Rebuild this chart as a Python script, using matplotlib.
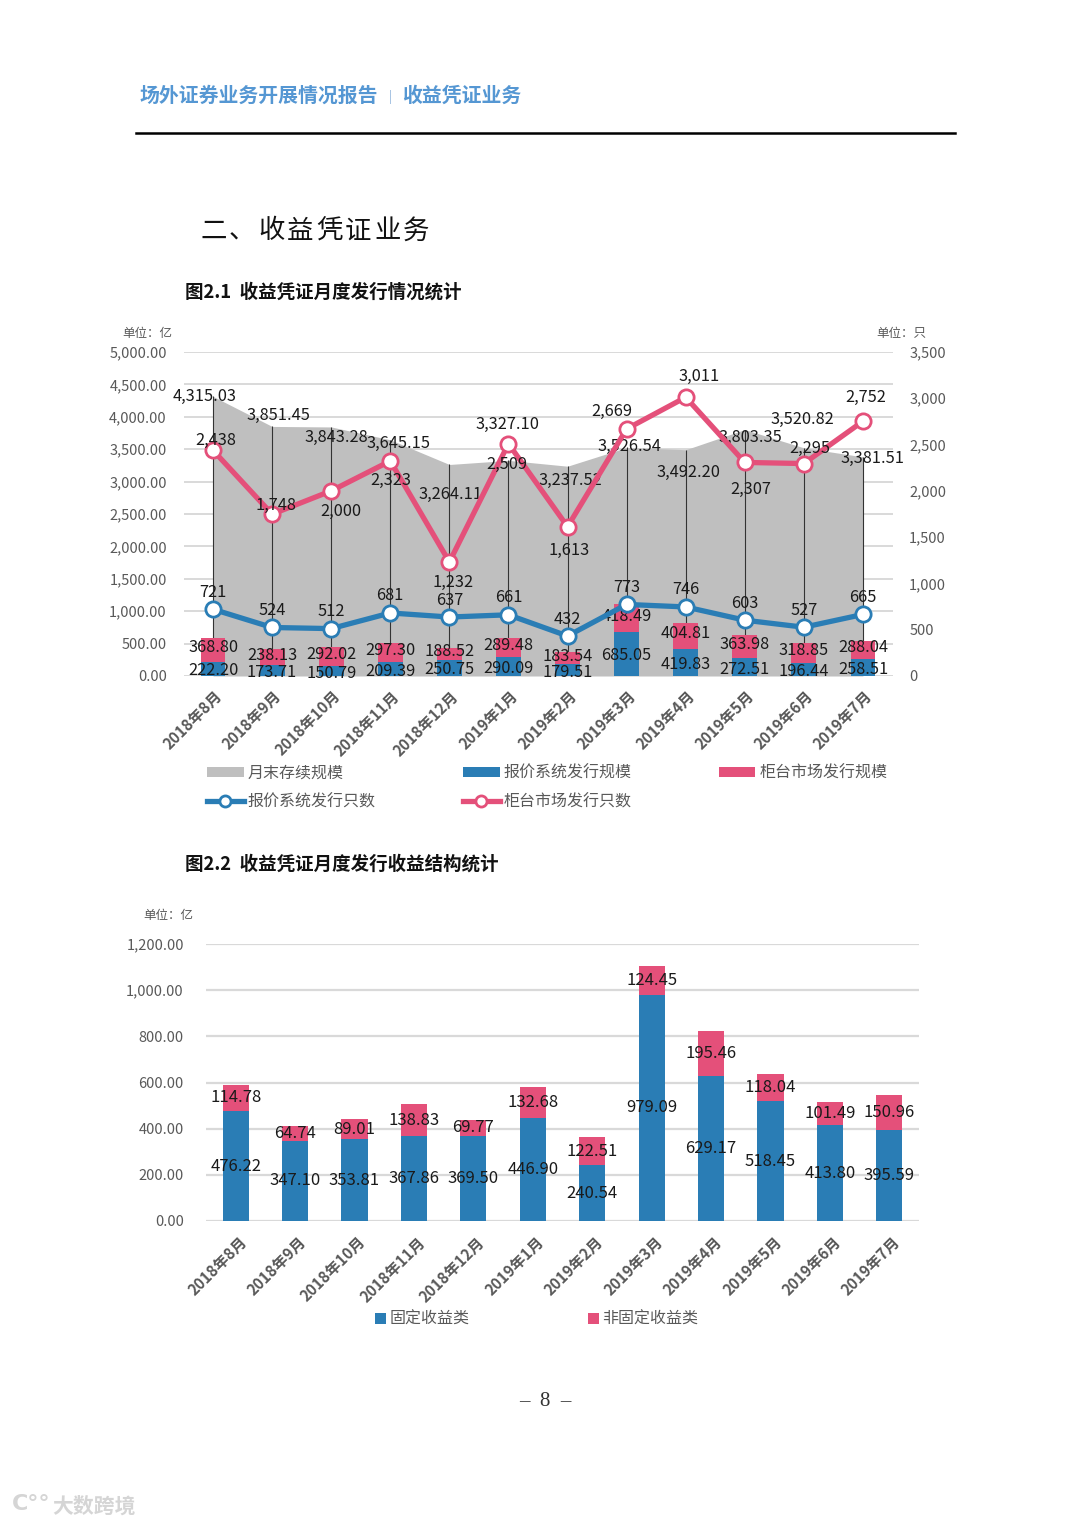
import matplotlib
matplotlib.use("Agg")
import matplotlib.pyplot as plt
from matplotlib.patches import Patch
from matplotlib.lines import Line2D
import matplotlib.transforms as mtransforms

plt.rcParams['font.family'] = ['Noto Sans CJK SC', 'DejaVu Sans']

# ---------------- data ----------------
months = ['2018年8月', '2018年9月', '2018年10月', '2018年11月', '2018年12月', '2019年1月',
          '2019年2月', '2019年3月', '2019年4月', '2019年5月', '2019年6月', '2019年7月']
stock_scale = [4315.03, 3851.45, 3843.28, 3645.15, 3264.11, 3327.10,
               3237.52, 3526.54, 3492.20, 3803.35, 3520.82, 3381.51]
quote_amount = [222.20, 173.71, 150.79, 209.39, 250.75, 290.09,
                179.51, 685.05, 419.83, 272.51, 196.44, 258.51]
otc_amount = [368.80, 238.13, 292.02, 297.30, 188.52, 289.48,
              183.54, 418.49, 404.81, 363.98, 318.85, 288.04]
quote_count = [721, 524, 512, 681, 637, 661, 432, 773, 746, 603, 527, 665]
otc_count = [2438, 1748, 2000, 2323, 1232, 2509, 1613, 2669, 3011, 2307, 2295, 2752]

fixed_income = [476.22, 347.10, 353.81, 367.86, 369.50, 446.90,
                240.54, 979.09, 629.17, 518.45, 413.80, 395.59]
non_fixed_income = [114.78, 64.74, 89.01, 138.83, 69.77, 132.68,
                    122.51, 124.45, 195.46, 118.04, 101.49, 150.96]

# ---------------- style ----------------
BLUE = '#2A7DB5'
PINK = '#E4507A'
GREY = '#BFBFBF'
TXT = '#595959'
GRID = '#D9D9D9'

# label offsets in pixels (style only)
stock_off = [(-8, 0), (6, 11), (5, -10), (8, -4), (1, -30), (-1, 36),
             (3, -14), (3, 1), (3, -23), (6, -8), (-1, 28), (10, -2)]
otc_cnt_off = [(3, 10), (4, 9), (10, -21), (1, -19), (4, -21), (-2, -21),
               (2, -24), (-15, 17), (13, 21), (6, -27), (6, 15), (3, 24)]

fig = plt.figure(figsize=(10.8, 15.27), dpi=100)
W, H = 1080, 1527


def fx(px):
    return px / W


def fy(py):
    return 1 - py / H


# ---------------- page texts ----------------
fig.text(fx(140), fy(95), '场外证券业务开展情况报告', fontsize=14.3, fontweight='bold',
         color='#5597D3', va='center', ha='left')
fig.text(fx(390), fy(97), '|', fontsize=9, color='#8DB3DA', va='center', ha='center')
fig.text(fx(402), fy(95), '收益凭证业务', fontsize=14.3, fontweight='bold',
         color='#5597D3', va='center', ha='left')
fig.add_artist(Line2D([fx(136), fx(955)], [fy(133), fy(133)], color='black', lw=1.8))

section_title = '二、收益凭证业务'
for k, ch in enumerate(section_title):
    fig.text(fx(200 + 29 * k), fy(231), ch, fontsize=19, color='#111111',
             va='center', ha='left')
fig.text(fx(185), fy(292), '图2.1  收益凭证月度发行情况统计', fontsize=13.3,
         fontweight='bold', color='#111111', va='center', ha='left')
fig.text(fx(185), fy(864), '图2.2  收益凭证月度发行收益结构统计', fontsize=13.3,
         fontweight='bold', color='#111111', va='center', ha='left')

fig.text(fx(122), fy(334), '单位：亿', fontsize=9, color=TXT, va='center', ha='left')
fig.text(fx(876), fy(334), '单位：只', fontsize=9, color=TXT, va='center', ha='left')
fig.text(fx(143), fy(916), '单位：亿', fontsize=9, color=TXT, va='center', ha='left')

fig.text(fx(545), fy(1401), '–  8  –', fontsize=15, color='#333333',
         family='Liberation Serif', va='center', ha='center')
fig.text(fx(52), fy(1506), '大数跨境', fontsize=15, fontweight='bold', color='#D5D5D5',
         va='center', ha='left')
fig.text(fx(12), fy(1504), 'C°°', fontsize=16, fontweight='bold', color='#D5D5D5',
         va='center', ha='left', family='DejaVu Sans')

x = list(range(len(months)))
tick_off = mtransforms.ScaledTranslation(1 / 100, -7 / 100, fig.dpi_scale_trans)

# ---------------- chart 1 ----------------
ax1 = fig.add_axes([fx(183.5), fy(676), fx(892.5) - fx(183.5), fy(352) - fy(676)])
ax1.set_xlim(-0.5, len(months) - 0.5)
ax1.set_ylim(0, 5000)
ax1.set_yticks(range(0, 5001, 500))
ax1.set_yticklabels([f'{v:,.2f}' for v in range(0, 5001, 500)])
ax1.yaxis.grid(True, color=GRID, lw=1.4)
ax1.set_axisbelow(True)
ax1.fill_between(x, stock_scale, 0, color=GREY, lw=0, zorder=1)
ax1.vlines(x, 0, stock_scale, color='#333333', lw=0.8, zorder=2)
ax1.bar(x, quote_amount, width=0.42, color=BLUE, zorder=3)
ax1.bar(x, otc_amount, width=0.42, bottom=quote_amount, color=PINK, zorder=3)

for s in ax1.spines.values():
    s.set_visible(False)
ax1.tick_params(axis='both', length=0)
ax1.tick_params(axis='y', labelsize=10.5, labelcolor=TXT, pad=12)
ax1.set_xticks(x)
ax1.set_xticklabels(months, rotation=45, ha='right', va='top', rotation_mode='anchor',
                    fontsize=11, fontweight='bold', color=TXT)
for lab in ax1.get_xticklabels():
    lab.set_transform(lab.get_transform() + tick_off)

ax2 = ax1.twinx()
ax2.set_ylim(0, 3500)
ax2.set_yticks(range(0, 3501, 500))
ax2.set_yticklabels([f'{v:,}' for v in range(0, 3501, 500)])
for s in ax2.spines.values():
    s.set_visible(False)
ax2.tick_params(axis='y', length=0, labelsize=10.5, labelcolor=TXT, pad=12)

ax2.plot(x, quote_count, color=BLUE, lw=3.8, marker='o', ms=11, mfc='white',
         mec=BLUE, mew=2, zorder=4)
ax2.plot(x, otc_count, color=PINK, lw=3.8, marker='o', ms=11, mfc='white',
         mec=PINK, mew=2, zorder=4)

lab_kw = dict(fontsize=11.8, color='#1A1A1A', ha='center', va='center',
              textcoords='offset pixels')
for i in x:
    ax1.annotate(f'{stock_scale[i]:,.2f}', (i, stock_scale[i]), xytext=stock_off[i],
                 zorder=5, **lab_kw)
    ax1.annotate(f'{quote_amount[i]:,.2f}', (i, quote_amount[i] / 2), xytext=(0, -2),
                 zorder=5, **lab_kw)
    ax1.annotate(f'{otc_amount[i]:,.2f}', (i, quote_amount[i] + otc_amount[i] / 2),
                 xytext=(0, 2), zorder=5, **lab_kw)
    ax2.annotate(f'{quote_count[i]:,}', (i, quote_count[i]), xytext=(0, 17),
                 zorder=6, **lab_kw)
    ax2.annotate(f'{otc_count[i]:,}', (i, otc_count[i]), xytext=otc_cnt_off[i],
                 zorder=6, **lab_kw)

handles1 = [
    Patch(facecolor=GREY, edgecolor='none', label='月末存续规模'),
    Line2D([0], [0], color=BLUE, lw=3.8, marker='o', ms=8, mfc='white', mec=BLUE,
           mew=2, label='报价系统发行只数'),
    Patch(facecolor=BLUE, edgecolor='none', label='报价系统发行规模'),
    Line2D([0], [0], color=PINK, lw=3.8, marker='o', ms=8, mfc='white', mec=PINK,
           mew=2, label='柜台市场发行只数'),
    Patch(facecolor=PINK, edgecolor='none', label='柜台市场发行规模'),
]
fig.legend(handles=handles1, loc='upper left', bbox_to_anchor=(fx(207), fy(765)),
           ncol=3, frameon=False, fontsize=11.5, labelcolor=TXT, handlelength=2.3,
           handleheight=0.6, handletextpad=0.25, columnspacing=5.45, labelspacing=0.7,
           borderpad=0, borderaxespad=0)

# ---------------- chart 2 ----------------
ax3 = fig.add_axes([fx(206), fy(1221), fx(919) - fx(206), fy(944) - fy(1221)])
ax3.set_xlim(-0.5, len(months) - 0.5)
ax3.set_ylim(0, 1200)
ax3.set_yticks(range(0, 1201, 200))
ax3.set_yticklabels([f'{v:,.2f}' for v in range(0, 1201, 200)])
ax3.yaxis.grid(True, color=GRID, lw=1.6)
ax3.set_axisbelow(True)
ax3.bar(x, fixed_income, width=0.44, color=BLUE, zorder=3)
ax3.bar(x, non_fixed_income, width=0.44, bottom=fixed_income, color=PINK, zorder=3)
for s in ax3.spines.values():
    s.set_visible(False)
ax3.tick_params(axis='both', length=0)
ax3.tick_params(axis='y', labelsize=10.5, labelcolor=TXT, pad=16)
ax3.set_xticks(x)
ax3.set_xticklabels(months, rotation=45, ha='right', va='top', rotation_mode='anchor',
                    fontsize=11, fontweight='bold', color=TXT)
tick_off2 = mtransforms.ScaledTranslation(3 / 100, -8 / 100, fig.dpi_scale_trans)
for lab in ax3.get_xticklabels():
    lab.set_transform(lab.get_transform() + tick_off2)

lab_kw2 = dict(lab_kw, fontsize=12)
for i in x:
    ax3.annotate(f'{fixed_income[i]:,.2f}', (i, fixed_income[i] / 2), xytext=(0, 0),
                 zorder=5, **lab_kw2)
    ax3.annotate(f'{non_fixed_income[i]:,.2f}',
                 (i, fixed_income[i] + non_fixed_income[i] / 2), xytext=(0, 0),
                 zorder=5, **lab_kw2)

handles2 = [
    Patch(facecolor=BLUE, edgecolor='none', label='固定收益类'),
    Patch(facecolor=PINK, edgecolor='none', label='非固定收益类'),
]
fig.legend(handles=handles2, loc='upper left', bbox_to_anchor=(fx(375), fy(1311)),
           ncol=2, frameon=False, fontsize=11.5, labelcolor=TXT, handlelength=0.7,
           handleheight=0.7, handletextpad=0.2, columnspacing=7.4,
           borderpad=0, borderaxespad=0)

fig.savefig('out.png', dpi=100, facecolor='white')
